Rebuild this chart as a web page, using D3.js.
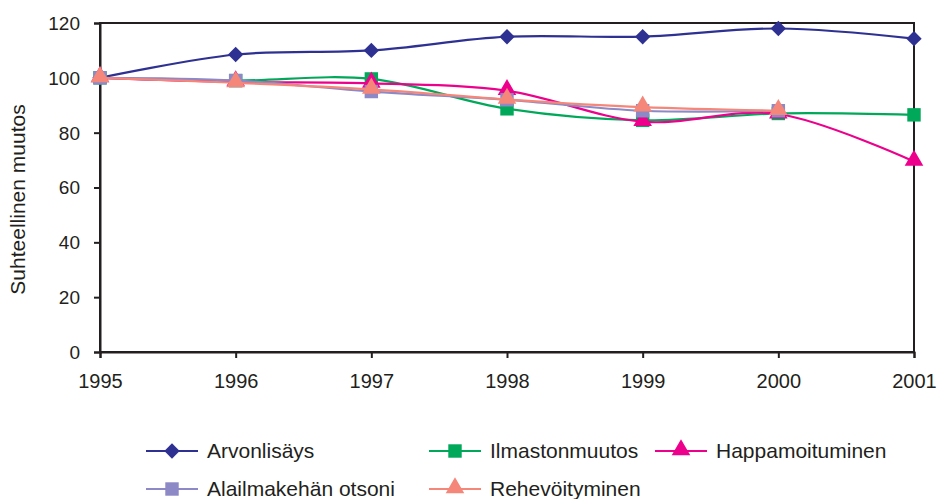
<!DOCTYPE html>
<html>
<head>
<meta charset="utf-8">
<script src="https://cdn.jsdelivr.net/npm/d3@7"></script>
<style>
  html, body { margin: 0; padding: 0; background: #fff; }
  svg { display: block; font-family: "Liberation Sans", Arial, sans-serif; }
</style>
</head>
<body>
<svg id="chart" width="937" height="499"></svg>
<script>
// Relative change of value added and environmental pressures, 1995 = 100
const years = [1995, 1996, 1997, 1998, 1999, 2000, 2001];
const yTicks = [0, 20, 40, 60, 80, 100, 120];

const arvonlisays      = [100, 108.5, 110, 115, 115, 118, 114.3];
const ilmastonmuutos   = [100, 99, 99.6, 88.7, 84.5, 87, 86.5];
const happamoituminen  = [100, 98.5, 98, 95.3, 84, 86.8, 69.5];
const alailmakehan     = [100, 99, 95, 92, 88, 88, null];
const rehevoityminen   = [100, 98.2, 95.8, 92.1, 89.3, 88, null];

const seriesNames  = ["Arvonlisäys", "Ilmastonmuutos", "Happamoituminen", "Alailmakehän otsoni", "Rehevöityminen"];
const seriesValues = [arvonlisays, ilmastonmuutos, happamoituminen, alailmakehan, rehevoityminen];
const seriesColors = ["#2E3192", "#00A859", "#EC008C", "#8C89C6", "#F4877A"];
const seriesMarkers = ["diamond", "square", "triangle", "square", "triangle"];

const svg = d3.select("#chart");
const plot = { left: 100, right: 914, top: 23, bottom: 352 };

const x = d3.scaleLinear().domain([1995, 2001]).range([plot.left, plot.right]);
const y = d3.scaleLinear().domain([0, 120]).range([plot.bottom, plot.top]);

const axisColor = "#231F20";
const fontFamily = "'Liberation Sans', Arial, sans-serif";

// plot frame
svg.append("rect")
  .attr("x", plot.left).attr("y", plot.top)
  .attr("width", plot.right - plot.left).attr("height", plot.bottom - plot.top)
  .attr("fill", "none").attr("stroke", axisColor).attr("stroke-width", 2);

// y axis
const yAxis = svg.append("g")
  .attr("transform", `translate(${plot.left},0)`)
  .call(d3.axisLeft(y).tickValues(yTicks).tickSize(6).tickPadding(14).tickFormat(d3.format("d")))
  .attr("font-size", 19).attr("font-family", fontFamily);
yAxis.select(".domain").attr("stroke", axisColor).attr("stroke-width", 2);
yAxis.selectAll(".tick line").attr("stroke", axisColor).attr("stroke-width", 2);
yAxis.selectAll(".tick text").attr("fill", axisColor).attr("dy", "0.34em");

// x axis
const xAxis = svg.append("g")
  .attr("transform", `translate(0,${plot.bottom})`)
  .call(d3.axisBottom(x).tickValues(years).tickSize(6).tickPadding(16).tickFormat(d3.format("d")))
  .attr("font-size", 20).attr("font-family", fontFamily);
xAxis.select(".domain").attr("stroke", axisColor).attr("stroke-width", 2);
xAxis.selectAll(".tick line").attr("stroke", axisColor).attr("stroke-width", 2);
xAxis.selectAll(".tick text").attr("fill", axisColor);

// y axis title
svg.append("text")
  .attr("transform", `translate(25,${(plot.top + plot.bottom) / 2 + 12}) rotate(-90)`)
  .attr("text-anchor", "middle")
  .attr("fill", axisColor)
  .attr("font-size", 21)
  .text("Suhteellinen muutos");

// marker shapes
const markerPath = {
  diamond: d3.symbol().type(d3.symbolDiamond2).size(150)(),
  square: d3.symbol().type(d3.symbolSquare).size(180)(),
  triangle: d3.symbol().type(d3.symbolTriangle).size(150)()
};
function drawMarker(g, kind, cx, cy, color) {
  const dy = kind === "triangle" ? -1 : 0;
  g.append("path")
    .attr("d", markerPath[kind])
    .attr("transform", `translate(${cx},${cy + dy})`)
    .attr("fill", color);
}

const line = d3.line()
  .defined(d => d.v != null)
  .x(d => x(d.year))
  .y(d => y(d.v))
  .curve(d3.curveCatmullRom.alpha(0));

seriesValues.forEach((vals, i) => {
  const pts = years.map((yr, k) => ({ year: yr, v: vals[k] })).filter(d => d.v != null);
  const g = svg.append("g");
  g.append("path")
    .datum(pts)
    .attr("d", line)
    .attr("fill", "none")
    .attr("stroke", seriesColors[i])
    .attr("stroke-width", 2.2);
  pts.forEach(d => drawMarker(g, seriesMarkers[i], x(d.year), y(d.v), seriesColors[i]));
});

// legend
const legendItems = [
  { i: 0, cx: 172, cy: 451 },
  { i: 1, cx: 455, cy: 451 },
  { i: 2, cx: 681, cy: 451 },
  { i: 3, cx: 172, cy: 489 },
  { i: 4, cx: 455, cy: 489 }
];
legendItems.forEach(item => {
  const g = svg.append("g");
  g.append("line")
    .attr("x1", item.cx - 26).attr("x2", item.cx + 26)
    .attr("y1", item.cy).attr("y2", item.cy)
    .attr("stroke", seriesColors[item.i]).attr("stroke-width", 2.2);
  drawMarker(g, seriesMarkers[item.i], item.cx, item.cy, seriesColors[item.i]);
  g.append("text")
    .attr("x", item.cx + 35).attr("y", item.cy + 7)
    .attr("fill", axisColor)
    .attr("font-size", 21)
    .text(seriesNames[item.i]);
});
</script>
</body>
</html>
